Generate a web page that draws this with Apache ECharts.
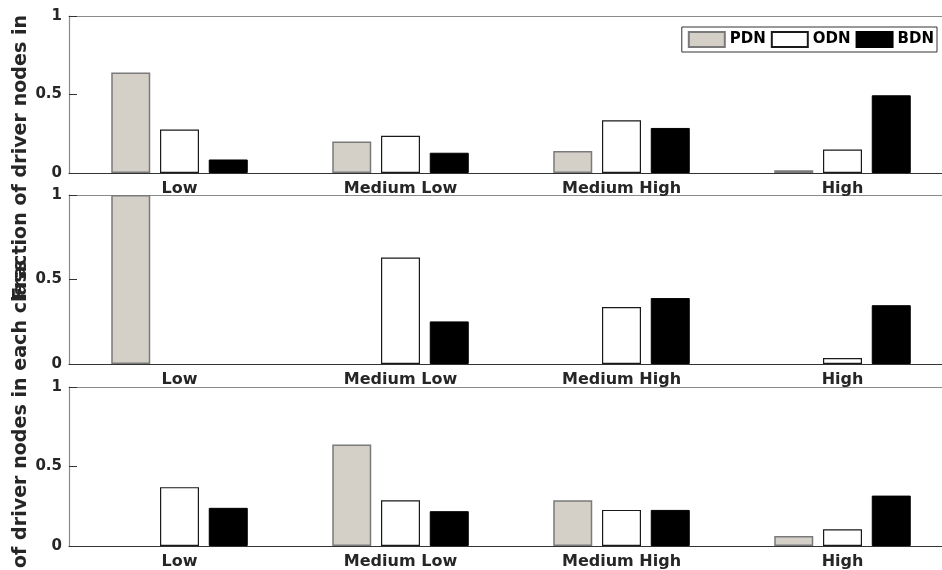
<!DOCTYPE html>
<html>
<head>
<meta charset="utf-8">
<title>Driver node classes</title>
<script src="https://cdn.jsdelivr.net/npm/echarts@6/dist/echarts.min.js"></script>
<style>
  html, body { margin: 0; padding: 0; background: #fff; }
  #chart { width: 942px; height: 570px; }
</style>
</head>
<body>
<div id="chart"></div>
<script>
// Class categories shared by all three panels
const categories = ['Low', 'Medium Low', 'Medium High', 'High'];
const yTicks = [0, 0.5, 1];
const seriesNames = ['PDN', 'ODN', 'BDN'];
const yTitle = 'Fraction of driver nodes in each class';
const yTitleHead = 'Fraction of driver nodes in';

// Top panel
const pdnTop = [0.64, 0.20, 0.14, 0.017];
const odnTop = [0.277, 0.237, 0.336, 0.15];
const bdnTop = [0.086, 0.129, 0.287, 0.495];

// Middle panel
const pdnMid = [1.0, 0, 0, 0];
const odnMid = [0, 0.63, 0.337, 0.035];
const bdnMid = [0, 0.252, 0.39, 0.348];

// Bottom panel
const pdnBot = [0, 0.638, 0.288, 0.063];
const odnBot = [0.37, 0.288, 0.227, 0.105];
const bdnBot = [0.24, 0.219, 0.227, 0.317];

const panels = [
  { data: [pdnTop, odnTop, bdnTop], top: 16, height: 157 },
  { data: [pdnMid, odnMid, bdnMid], top: 195, height: 169 },
  { data: [pdnBot, odnBot, bdnBot], top: 387, height: 159 }
];

const FONT = 'DejaVu Sans';
const TEXT = '#262626';
const BOX = '#8a8a8a';

const seriesStyles = [
  { color: '#d4d0c8', borderColor: '#7a7a7a', borderWidth: 1.5 },
  { color: '#ffffff', borderColor: '#1a1a1a', borderWidth: 1.2 },
  { color: '#000000', borderColor: '#000000', borderWidth: 1 }
];

// empty classes get no outline so nothing shows on the baseline
const toBarData = vals => vals.map(v => v === 0 ? { value: 0, itemStyle: { borderWidth: 0 } } : v);

const grid = [], xAxis = [], yAxis = [], series = [];

panels.forEach((p, i) => {
  grid.push({
    left: 69, right: -11, top: p.top, height: p.height,
    containLabel: false, outerBoundsMode: 'none'
  });

  // bottom category axis with labels
  xAxis.push({
    type: 'category', gridIndex: i, data: categories, position: 'bottom',
    axisLine: { lineStyle: { color: '#333', width: 1.2 } },
    axisTick: { inside: true, alignWithLabel: true, length: 8, lineStyle: { color: '#333' } },
    axisLabel: { margin: 8, color: TEXT, fontFamily: FONT, fontWeight: 'bold', fontSize: 16 },
    splitLine: { show: false }
  });
  // top box edge with inward ticks
  xAxis.push({
    type: 'category', gridIndex: i, data: categories, position: 'top',
    axisLine: { lineStyle: { color: BOX, width: 1.2 } },
    axisTick: { inside: true, alignWithLabel: true, length: 8, lineStyle: { color: '#333' } },
    axisLabel: { show: false },
    splitLine: { show: false }
  });

  yAxis.push({
    type: 'value', gridIndex: i, min: yTicks[0], max: yTicks[yTicks.length - 1], interval: 0.5,
    position: 'left',
    axisLine: { show: true, lineStyle: { color: BOX, width: 1.2 } },
    axisTick: { show: true, inside: true, length: 8, lineStyle: { color: '#333' } },
    axisLabel: {
      margin: 7, color: TEXT, fontFamily: FONT, fontWeight: 'bold', fontSize: 15,
      formatter: v => String(v)
    },
    splitLine: { show: false }
  });

  p.data.forEach((vals, s) => {
    series.push({
      type: 'bar', name: seriesNames[s],
      xAxisIndex: i * 2, yAxisIndex: i,
      data: toBarData(vals),
      barWidth: 39, barGap: '25%',
      itemStyle: seriesStyles[s],
      emphasis: { disabled: true },
      animation: false
    });
  });
});

// Rotated y titles: the upper one runs from y=300 up to y=15; the lower one
// starts its second word at the bottom edge, the first word falling off-canvas.
const measure = document.createElement('canvas').getContext('2d');
const fontAt = size => 'bold ' + size + 'px "' + FONT + '"';
measure.font = fontAt(20);
const titleSize = Math.round(20 * 285 / measure.measureText(yTitleHead).width * 10) / 10;
measure.font = fontAt(titleSize);
const titleWidth = measure.measureText(yTitle).width;
const leadWidth = measure.measureText('Fraction ').width;
const titleX = 21;
const bottomTitleStart = 568 + leadWidth;

const titleText = (text, y, align) => ({
  type: 'text',
  x: titleX, y: y,
  rotation: Math.PI / 2,
  style: {
    text: text,
    fill: TEXT,
    font: fontAt(titleSize),
    align: align,
    verticalAlign: 'middle'
  },
  silent: true
});

const chart = echarts.init(document.getElementById('chart'), null, { renderer: 'canvas' });
chart.setOption({
  animation: false,
  backgroundColor: '#ffffff',
  grid, xAxis, yAxis, series,
  graphic: [
    titleText(yTitleHead, 300, 'left'),
    titleText(yTitle, bottomTitleStart - titleWidth / 2, 'center')
  ],
  legend: {
    data: seriesNames,
    right: 5, top: 27,
    orient: 'horizontal',
    icon: 'rect',
    itemWidth: 36, itemHeight: 15, itemGap: 5,
    padding: [4, 3, 4, 6],
    backgroundColor: '#ffffff',
    borderColor: '#333', borderWidth: 1, borderRadius: 0,
    selectedMode: false,
    textStyle: { color: '#000', fontFamily: FONT, fontWeight: 'bold', fontSize: 15 }
  }
});
</script>
</body>
</html>
